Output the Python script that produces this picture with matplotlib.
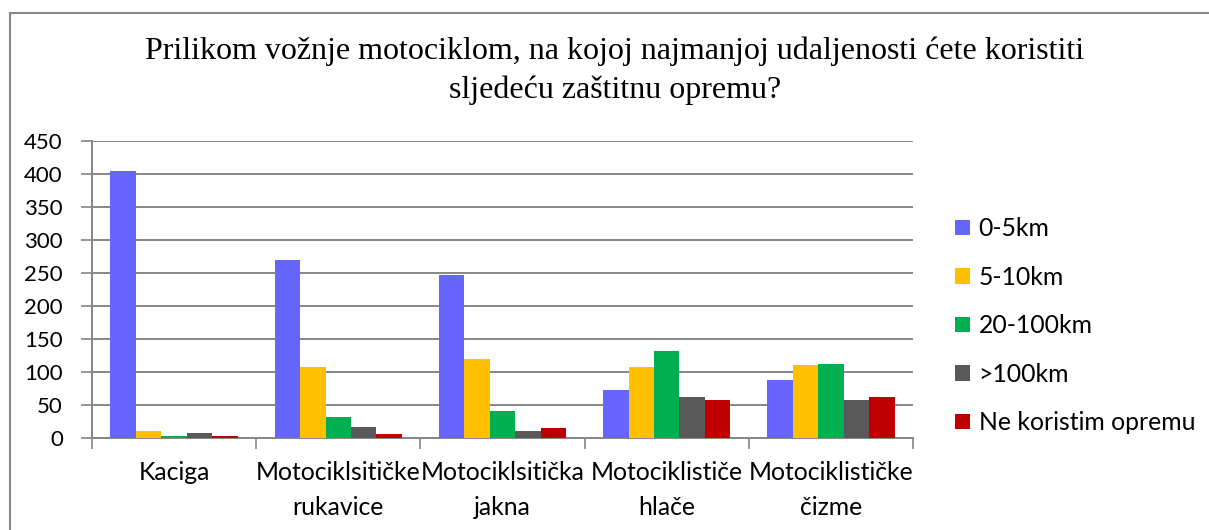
import numpy as np
import matplotlib.pyplot as plt
from matplotlib.lines import Line2D

categories = ["Kaciga", "Motociklsitičke\nrukavice", "Motociklsitička\njakna",
              "Motociklističe\nhlače", "Motociklističke\nčizme"]
series = ["0-5km", "5-10km", "20-100km", ">100km", "Ne koristim opremu"]
v_0_5 = [404, 269, 247, 72, 88]
v_5_10 = [11, 107, 119, 108, 110]
v_20_100 = [3, 32, 41, 132, 112]
v_100 = [8, 17, 10, 62, 58]
v_ne = [3, 6, 15, 57, 62]
values = [v_0_5, v_5_10, v_20_100, v_100, v_ne]
colors = ["#6666FF", "#FFC000", "#00B050", "#595959", "#C00000"]

title = "Prilikom vožnje motociklom, na kojoj najmanjoj udaljenosti ćete koristiti\nsljedeću zaštitnu opremu?"

sans = ["Lato", "DejaVu Sans"]
grid_c = "#868686"

fig = plt.figure(figsize=(12.09, 5.30), dpi=100)
ax = fig.add_axes([92/1209, 1-438/530, (913-92)/1209, (438-141)/530])

x = np.arange(len(categories))
w = 0.155
handles = []
for i, (vals, c) in enumerate(zip(values, colors)):
    b = ax.bar(x + (i - 2) * w, vals, w, color=c, zorder=3, label=series[i])
    handles.append(b)

ax.set_xlim(-0.5, len(categories) - 0.5)
ax.set_ylim(0, 450)
ax.set_yticks(np.arange(0, 451, 50))
ax.yaxis.grid(True, color=grid_c, lw=1.4, zorder=0)
ax.tick_params(axis="y", length=8, color=grid_c, width=1.2, pad=13, labelsize=16)
for lab in ax.get_yticklabels():
    lab.set_fontfamily(sans)

# boundary ticks (major) and centred labels (minor)
ax.set_xticks(np.arange(-0.5, len(categories)))
ax.set_xticklabels([])
ax.tick_params(axis="x", which="major", length=8, color=grid_c, width=1.2)
ax.set_xticks(x, minor=True)
ax.set_xticklabels(categories, minor=True, fontsize=17.8, family=sans, linespacing=1.62)
ax.tick_params(axis="x", which="minor", length=0, pad=16.5)

for s in ["top", "right"]:
    ax.spines[s].set_visible(False)
for s in ["left", "bottom"]:
    ax.spines[s].set_color(grid_c)
    ax.spines[s].set_linewidth(1.4)

fig.text(615/1209, 1-71/530, title, ha="center", va="center", fontsize=23,
         family="Liberation Serif", linespacing=1.4)

leg = fig.legend(handles=handles, labels=series, loc="upper left",
                 bbox_to_anchor=(933/1209, 1-195/530), frameon=False,
                 prop={"family": sans, "size": 17.8}, handlelength=0.6, handleheight=0.6,
                 handletextpad=0.35, labelspacing=1.03)

# outer chart border
fig.add_artist(Line2D([10/1209, 10/1209], [0, 1-13/530], color="#888888", lw=1.5))
fig.add_artist(Line2D([10/1209, 1], [1-13/530, 1-13/530], color="#888888", lw=1.5))

fig.savefig("out.png", dpi=100)
